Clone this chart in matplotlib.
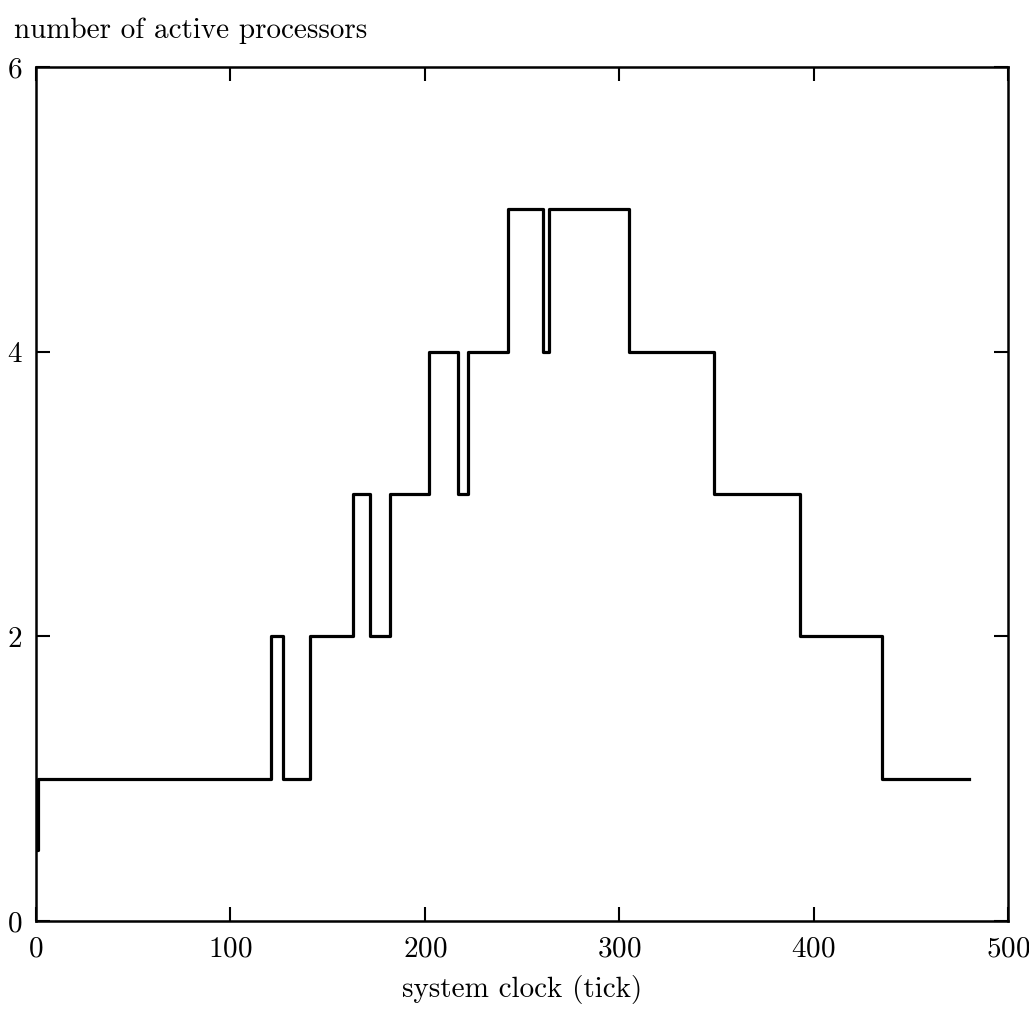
import matplotlib
matplotlib.use("Agg")
import matplotlib.pyplot as plt

# clock ticks where the number of active processors changes, and the new count
change_ticks = [0, 1, 121, 127, 141, 163, 172, 182, 202, 217, 222,
                243, 261, 264, 305, 349, 393, 435, 480]
active_procs = [0.5, 1, 2, 1, 2, 3, 2, 3, 4, 3, 4,
                5, 4, 5, 4, 3, 2, 1, 1]

x_ticks = [0, 100, 200, 300, 400, 500]
y_ticks = [0, 2, 4, 6]

plt.rcParams['font.family'] = ['cmr10', 'DejaVu Serif']
plt.rcParams['axes.formatter.use_mathtext'] = True

fig = plt.figure(figsize=(10.29, 10.09), dpi=100)
ax = fig.add_axes([0.035, 0.0872, 0.9446, 0.8464])

ax.step(change_ticks, active_procs, where='post', color='black', lw=2.3)

ax.set_xlim(0, 500)
ax.set_ylim(0, 6)
ax.set_xticks(x_ticks)
ax.set_yticks(y_ticks)
ax.tick_params(direction='in', length=10, width=1.5, top=True, right=True,
               labelsize=21)
ax.tick_params(axis='x', pad=11)
ax.tick_params(axis='y', pad=10)

for s in ax.spines.values():
    s.set_linewidth(1.8)

ax.set_xlabel('system clock (tick)', fontsize=21, labelpad=9)
fig.text(0.014, 0.970, 'number of active processors', fontsize=21,
         ha='left', va='center')

fig.savefig('out.png', dpi=100, facecolor='white')
